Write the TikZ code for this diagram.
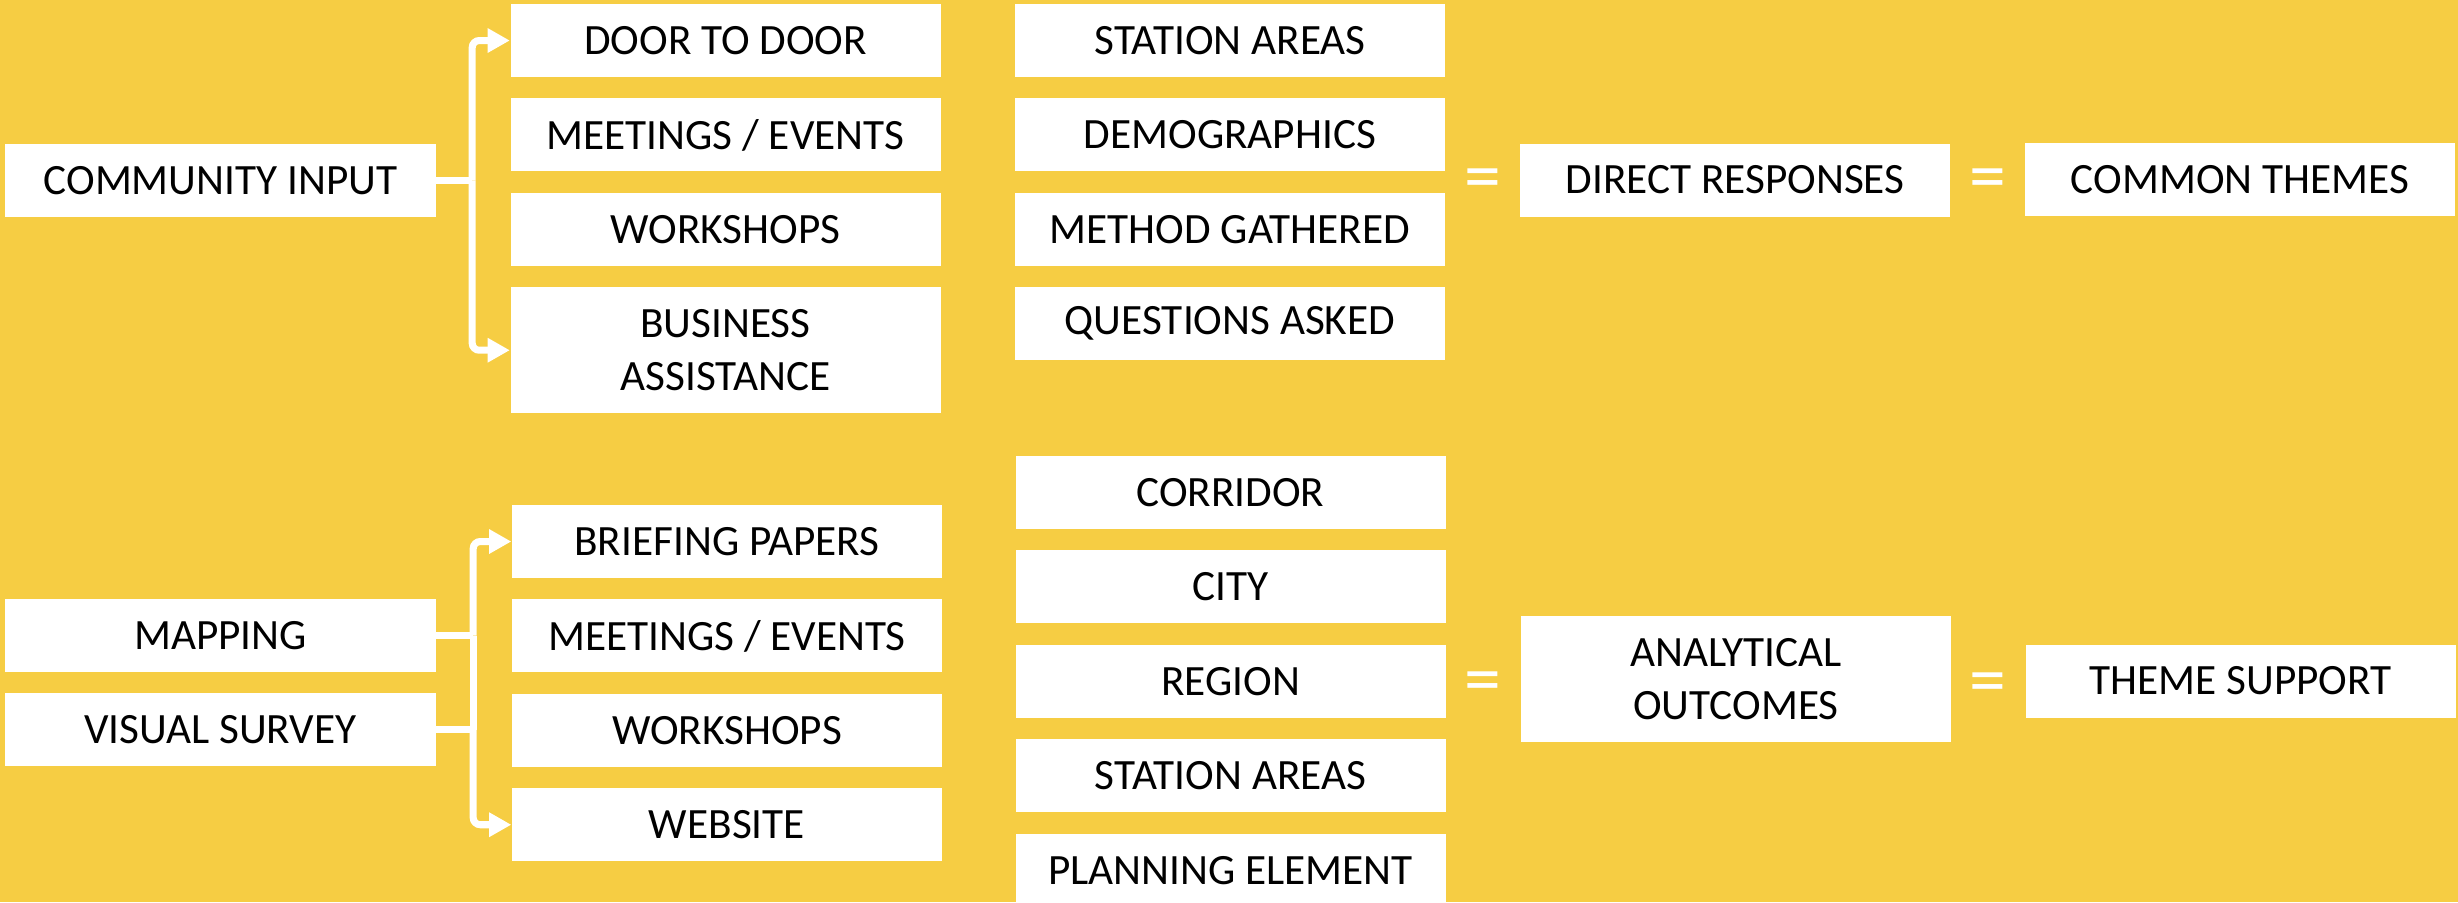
\documentclass[tikz,border=0pt]{standalone}
\usepackage{fontspec}
\setmainfont{Carlito}
\usetikzlibrary{positioning,calc,arrows.meta}
\definecolor{bgyellow}{RGB}{246,205,67}

\begin{document}
\begin{tikzpicture}[
    every node/.style={fill=white, inner sep=0pt, align=center,
      minimum width=4.3cm, minimum height=0.73cm,
      font=\fontsize{12.3}{15}\selectfont},
    tall/.style={minimum height=1.26cm},
    eqsign/.style={fill=none, minimum width=0pt, minimum height=0pt,
      text=white, yshift=-0.05cm, font=\fontsize{21}{21}\selectfont},
    link/.style={draw=white, line width=2pt, rounded corners=2pt},
    arr/.style={link, -{Triangle[length=6.3pt,width=6.6pt]}},
    node distance=0.2cm]

    \useasboundingbox (0,0) rectangle (24.58,-9.02);
    \fill[bgyellow] (0,0) rectangle (24.58,-9.02);

    % upper group
    \node (ci) at (2.205,-1.805) {COMMUNITY INPUT};
    \node (door) at (7.255,-0.405) {DOOR TO DOOR};
    \node[below=of door] (meet) {MEETINGS / EVENTS};
    \node[below=of meet] (work) {WORKSHOPS};
    \node[tall, below=of work] (bus) {BUSINESS\\ASSISTANCE};

    \node (stat) at (12.30,-0.405) {STATION AREAS};
    \node[below=of stat] (demo) {DEMOGRAPHICS};
    \node[below=of demo] (meth) {METHOD GATHERED};
    \node[below=of meth] (ques) {QUESTIONS ASKED};

    \node (dir) at (17.35,-1.80) {DIRECT RESPONSES};
    \node (com) at (22.40,-1.795) {COMMON THEMES};

    \node[eqsign] (eq1) at ($(dir.west -| demo.east)!0.5!(dir.west)$) {=};
    \node[eqsign] (eq2) at ($(dir.east)!0.5!(com.west)$) {=};

    \coordinate (j1) at ($(ci.east)+(0.36,0)$);
    \draw[link] (ci) -- (j1);
    \draw[arr] (j1) |- (door.west);
    \draw[arr] (j1) |- (bus.west);

    % lower group
    \node (map) at (2.205,-6.355) {MAPPING};
    \node[below=of map] (vis) {VISUAL SURVEY};
    \node (brief) at (7.27,-5.415) {BRIEFING PAPERS};
    \node[below=of brief] (meet2) {MEETINGS / EVENTS};
    \node[below=of meet2] (work2) {WORKSHOPS};
    \node[below=of work2] (web) {WEBSITE};

    \node (corr) at (12.305,-4.925) {CORRIDOR};
    \node[below=of corr] (city) {CITY};
    \node[below=of city] (reg) {REGION};
    \node[below=of reg] (stat2) {STATION AREAS};
    \node[below=of stat2] (plan) {PLANNING ELEMENT};

    \node[tall] (ana) at (17.36,-6.79) {ANALYTICAL\\OUTCOMES};
    \node (thm) at (22.405,-6.81) {THEME SUPPORT};

    \node[eqsign, yshift=-0.04cm] (eq3) at ($(ana.west -| reg.east)!0.5!(ana.west)$) {=};
    \node[eqsign, yshift=-0.04cm] (eq4) at ($(ana.east)!0.5!(thm.west)$) {=};

    \coordinate (j2) at ($(map.east)+(0.37,0)$);
    \coordinate (j3) at ($(vis.east)+(0.37,0)$);
    \draw[link] (map) -- (j2);
    \draw[link] (vis) -- (j3);
    \draw[link] (j2) -- (j3);
    \draw[arr] (j2) |- (brief.west);
    \draw[arr] (j3) |- (web.west);
\end{tikzpicture}
\end{document}
